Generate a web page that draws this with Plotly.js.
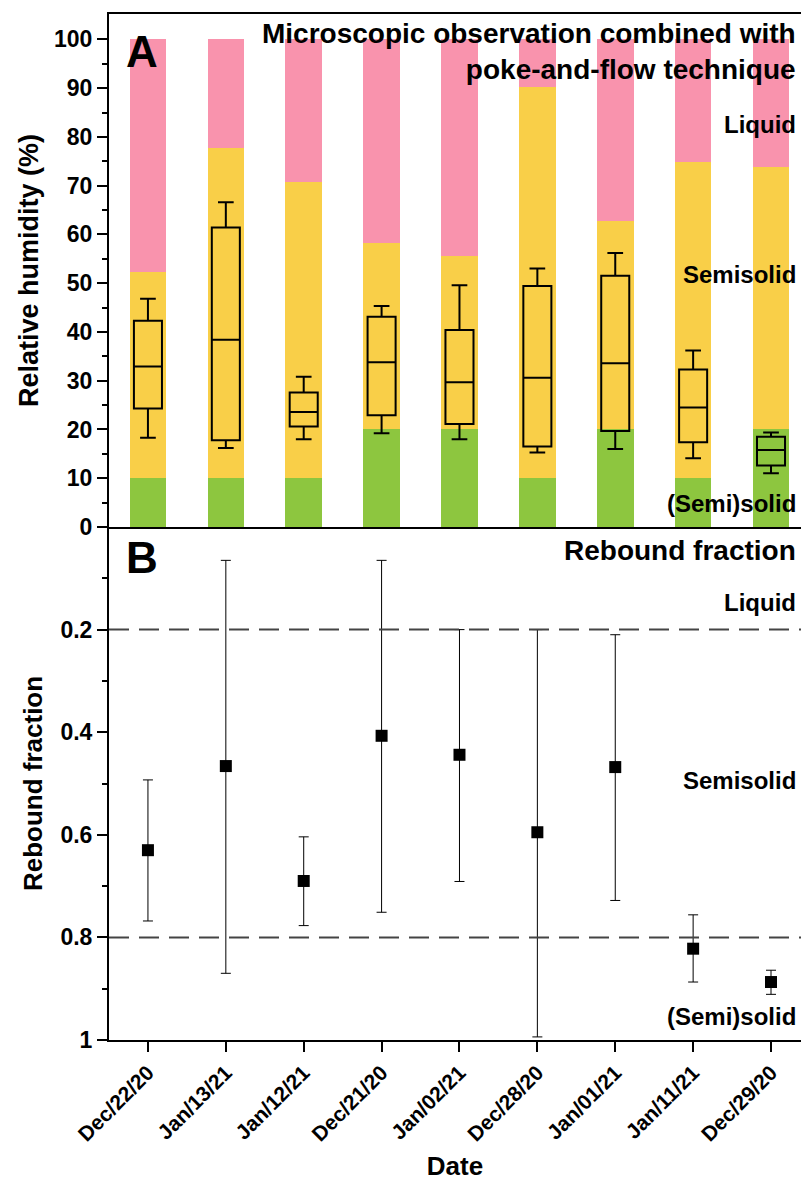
<!DOCTYPE html>
<html>
<head>
<meta charset="utf-8">
<script src="https://cdn.plot.ly/plotly-3.0.1.min.js"></script>
<style>html,body{margin:0;padding:0;background:#fff;}#chart{width:801px;height:1184px;}</style>
</head>
<body>
<div id="chart"></div>
<script>
// Categories (dates)
const dates = ["Dec/22/20","Jan/13/21","Jan/12/21","Dec/21/20","Jan/02/21","Dec/28/20","Jan/01/21","Jan/11/21","Dec/29/20"];

// Panel A: phase boundaries (RH %)
const solidTop = [10, 10, 10, 20, 20, 10, 20, 10, 20];
const semisolidTop = [52.2, 77.8, 70.8, 58.2, 55.6, 90.2, 62.8, 74.9, 73.8];
const liquidTop = [100, 100, 100, 100, 100, 100, 100, 100, 100];

// Panel A: box statistics (RH %)
const boxLower = [18.3, 16.2, 18.0, 19.2, 18.0, 15.3, 16.0, 14.1, 11.0];
const boxQ1 = [24.3, 17.8, 20.6, 22.9, 21.1, 16.5, 19.7, 17.4, 12.6];
const boxMedian = [32.9, 38.4, 23.6, 33.8, 29.7, 30.6, 33.6, 24.5, 15.8];
const boxQ3 = [42.3, 61.4, 27.6, 43.1, 40.4, 49.4, 51.5, 32.3, 18.5];
const boxUpper = [46.8, 66.6, 30.8, 45.3, 49.6, 53.0, 56.2, 36.2, 19.4];

// Panel B: rebound fraction
const rebound = [0.630, 0.466, 0.690, 0.407, 0.444, 0.595, 0.468, 0.822, 0.887];
const reboundLow = [0.493, 0.065, 0.604, 0.065, 0.200, 0.200, 0.210, 0.756, 0.864];
const reboundHigh = [0.768, 0.870, 0.777, 0.751, 0.691, 0.994, 0.728, 0.887, 0.911];

const thresholds = [0.2, 0.8];

const cGreen = "#8DC63F", cYellow = "#F9CF48", cPink = "#F993AD";
const FONT = "Liberation Sans, Arial, sans-serif";

const greenH = solidTop.slice();
const yellowH = semisolidTop.map((v, i) => v - solidTop[i]);
const pinkH = liquidTop.map((v, i) => v - semisolidTop[i]);

const barW = 0.47;
const traces = [
  {type: "bar", x: dates, y: greenH, width: barW, marker: {color: cGreen, line: {width: 0}}, xaxis: "x", yaxis: "y", hoverinfo: "skip"},
  {type: "bar", x: dates, y: yellowH, width: barW, marker: {color: cYellow, line: {width: 0}}, xaxis: "x", yaxis: "y", hoverinfo: "skip"},
  {type: "bar", x: dates, y: pinkH, width: barW, marker: {color: cPink, line: {width: 0}}, xaxis: "x", yaxis: "y", hoverinfo: "skip"},
  {type: "box", x: dates, q1: boxQ1, median: boxMedian, q3: boxQ3, lowerfence: boxLower, upperfence: boxUpper,
   width: 0.36, whiskerwidth: 0.56, fillcolor: "rgba(0,0,0,0)", line: {color: "#000", width: 2},
   boxpoints: false, xaxis: "x", yaxis: "y"},
  {type: "scatter", mode: "markers", x: dates, y: rebound,
   marker: {symbol: "square", size: 12, color: "#000"},
   error_y: {type: "data", symmetric: false,
     array: reboundHigh.map((v, i) => v - rebound[i]),
     arrayminus: rebound.map((v, i) => v - reboundLow[i]),
     color: "#000", thickness: 1, width: 5},
   xaxis: "x2", yaxis: "y2"}
];

const shapes = thresholds.map(t => ({type: "line", xref: "x2 domain", x0: 0, x1: 1, yref: "y2", y0: t, y1: t,
  line: {color: "#444", width: 2, dash: "20px,10px"}}));

const ann = (text, x, y, xref, yref, size, xanchor) => ({text: "<b>" + text + "</b>", x: x, y: y, xref: xref, yref: yref,
  showarrow: false, xanchor: xanchor || "right", yanchor: "middle", align: "right", font: {family: FONT, size: size, color: "#000"}});

const annotations = [
  ann("A", -0.08, 97.5, "x", "y", 44, "center"),
  ann("Microscopic observation combined with<br>poke-and-flow technique", 0.995, 97.6, "paper", "y", 28),
  ann("Liquid", 0.995, 82.6, "paper", "y", 24),
  ann("Semisolid", 0.995, 51.7, "paper", "y", 24),
  ann("(Semi)solid", 0.995, 4.9, "paper", "y", 24),
  ann("B", -0.08, 0.06, "x2", "y2", 44, "center"),
  ann("Rebound fraction", 0.995, 0.046, "paper", "y2", 28),
  ann("Liquid", 0.995, 0.147, "paper", "y2", 24),
  ann("Semisolid", 0.995, 0.495, "paper", "y2", 24),
  ann("(Semi)solid", 0.995, 0.955, "paper", "y2", 24)
];

const xr = [-0.5, 8.385];
const layout = {
  width: 801, height: 1184,
  margin: {l: 109, r: 0, t: 14, b: 144},
  paper_bgcolor: "#fff", plot_bgcolor: "#fff",
  showlegend: false, barmode: "stack", bargap: 0.5,
  font: {family: FONT, color: "#000"},
  xaxis: {domain: [0, 1], range: xr, type: "category", anchor: "y", showline: true, mirror: true, linecolor: "#000", linewidth: 2,
    ticks: "", showticklabels: false, showgrid: false, zeroline: false},
  yaxis: {domain: [0.5, 1], range: [0, 105.2], anchor: "x", showline: true, linecolor: "#000", linewidth: 2,
    tickmode: "array", tickvals: [0,10,20,30,40,50,60,70,80,90,100], ticks: "outside", ticklen: 10, tickwidth: 2, tickcolor: "#000",
    minor: {tickmode: "array", tickvals: [5,15,25,35,45,55,65,75,85,95], ticks: "outside", ticklen: 5, tickwidth: 2, tickcolor: "#000", showgrid: false},
    tickfont: {family: FONT, size: 23, color: "#000", weight: "bold"}, showgrid: false, zeroline: false,
    title: {text: "<b>Relative humidity (%)</b>", font: {family: FONT, size: 27, color: "#000"}, standoff: 8}},
  xaxis2: {domain: [0, 1], range: xr, type: "category", anchor: "y2", showline: true, linecolor: "#000", linewidth: 2,
    ticks: "outside", ticklen: 10, tickwidth: 2, tickcolor: "#000", tickangle: -45,
    tickfont: {family: FONT, size: 21, color: "#000", weight: "bold"}, showgrid: false, zeroline: false,
    title: {text: "<b>Date</b>", font: {family: FONT, size: 26, color: "#000"}, standoff: 12}},
  yaxis2: {domain: [0, 0.5], range: [1, 0], anchor: "x2", showline: true, linecolor: "#000", linewidth: 2,
    tickmode: "array", tickvals: [0.2, 0.4, 0.6, 0.8, 1], ticktext: ["0.2","0.4","0.6","0.8","1"],
    ticks: "outside", ticklen: 10, tickwidth: 2, tickcolor: "#000",
    minor: {tickmode: "array", tickvals: [0.1, 0.3, 0.5, 0.7, 0.9], ticks: "outside", ticklen: 5, tickwidth: 2, tickcolor: "#000", showgrid: false},
    tickfont: {family: FONT, size: 23, color: "#000", weight: "bold"}, showgrid: false, zeroline: false,
    title: {text: "<b>Rebound fraction</b>", font: {family: FONT, size: 26, color: "#000"}, standoff: 10}},
  shapes: shapes,
  annotations: annotations
};

Plotly.newPlot("chart", traces, layout, {staticPlot: true, displayModeBar: false});
</script>
</body>
</html>
